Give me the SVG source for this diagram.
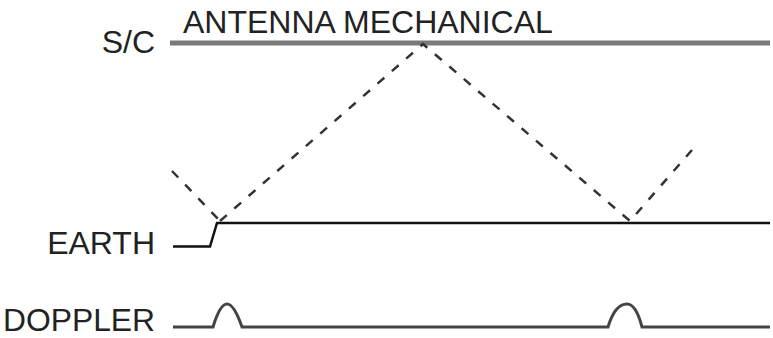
<svg xmlns="http://www.w3.org/2000/svg" width="773" height="338" viewBox="0 0 773 338">
<style>
text{font-family:"Liberation Sans",Arial,sans-serif;font-size:32px;fill:#222}
.lbl{text-anchor:end}
.dash{fill:none;stroke:#333;stroke-width:2.5;stroke-dasharray:9 10}
</style>
<rect width="773" height="338" fill="#fff"/>
<g id="sc">
<text class="lbl" x="155" y="53">S/C</text>
<text x="183" y="33">ANTENNA MECHANICAL</text>
<line x1="170" y1="43" x2="770" y2="43" stroke="#7a7a7a" stroke-width="5"/>
</g>
<g id="earth">
<text class="lbl" x="155" y="254" font-size="31">EARTH</text>
<path d="M173,246.5 H210 L217,223 H770" fill="none" stroke="#111" stroke-width="2.5"/>
</g>
<g id="doppler">
<text x="3" y="331" font-size="30" textLength="152" lengthAdjust="spacingAndGlyphs">DOPPLER</text>
<path d="M173,327 H213 Q220,304 227,304 Q234,304 242,327 H608 Q615,304 627,304 Q636,304 642,327 H770" fill="none" stroke="#444" stroke-width="3"/>
</g>
<g id="connectors">
<path class="dash" d="M172,171 L220,221"/>
<path class="dash" d="M220,221 L423,44 L630,221 L692,150"/>
</g>
</svg>
